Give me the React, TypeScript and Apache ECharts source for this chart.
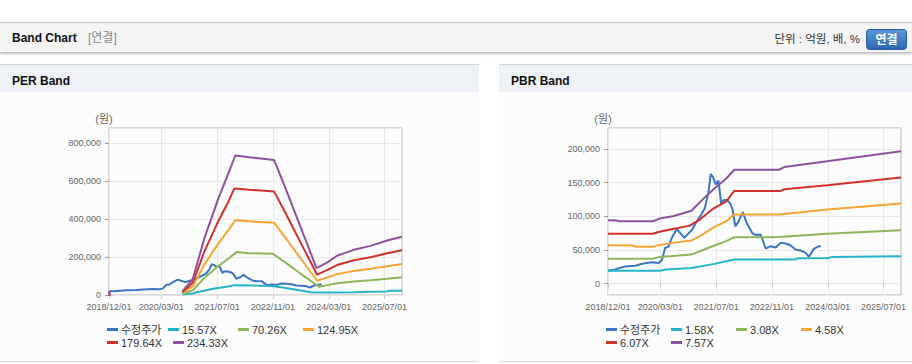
import React, { useEffect, useRef } from 'react';
import * as echarts from 'echarts';

const FONT = '"Liberation Sans", Arial, "Noto Sans CJK KR", sans-serif';

// monthly categories for the label axis, 2018/12/01 .. 2025/12/01
const months: string[] = [];
for (let y = 2018, m = 12; y < 2026; ) {
  months.push(`${y}/${String(m).padStart(2, '0')}/01`);
  if (y === 2025 && m === 12) break;
  m++;
  if (m > 12) { m = 1; y++; }
}
const xTickLabels = ['2018/12/01', '2020/03/01', '2021/07/01', '2022/11/01', '2024/03/01', '2025/07/01'];

const perLegend = ['수정주가', '15.57X', '70.26X', '124.95X', '179.64X', '234.33X'];
const pbrLegend = ['수정주가', '1.58X', '3.08X', '4.58X', '6.07X', '7.57X'];
const colors = ['#3a76c3', '#22b4c8', '#8db658', '#f5a533', '#d1302b', '#8f519e'];

type P = [string, number | string];

const price: P[] = [
  ['2018-12-01', 19500], ['2019-01-16', 20000], ['2019-03-10', 23000], ['2019-05-01', 25500],
  ['2019-07-28', 26500], ['2019-09-25', 29500], ['2019-12-19', 31500], ['2020-02-16', 30500],
  ['2020-03-16', 35000], ['2020-04-13', 53000], ['2020-05-13', 55000], ['2020-06-10', 68000],
  ['2020-07-25', 81000], ['2020-08-22', 75000], ['2020-09-28', 68000], ['2020-11-04', 75000],
  ['2020-12-01', 79000], ['2021-01-13', 92000], ['2021-02-13', 100000], ['2021-03-25', 112000],
  ['2021-04-25', 135000], ['2021-05-16', 163000], ['2021-06-07', 157000], ['2021-06-28', 147000],
  ['2021-07-22', 153000], ['2021-08-16', 117000], ['2021-09-04', 124000], ['2021-10-04', 124000],
  ['2021-11-01', 119000], ['2021-11-22', 110000], ['2021-12-16', 85000], ['2022-01-13', 92000],
  ['2022-02-19', 106000], ['2022-03-25', 90000], ['2022-05-13', 75000], ['2022-06-13', 72000],
  ['2022-07-25', 73000], ['2022-09-07', 52000], ['2022-10-19', 55500], ['2022-12-04', 53500],
  ['2023-01-16', 60500], ['2023-03-01', 59500], ['2023-04-13', 56500], ['2023-05-25', 50500],
  ['2023-07-10', 49000], ['2023-08-22', 45500], ['2023-09-19', 39500], ['2023-11-01', 51500],
  ['2023-12-16', 55500], ['2024-01-01', 55500],
];

// PER bands
const per15: P[] = [
  ['2020-09-01', 2000], ['2020-12-01', 8000], ['2021-01-04', 14000], ['2021-05-28', 33000],
  ['2021-10-04', 45000], ['2021-12-01', 52000], ['2022-05-19', 50000], ['2022-11-10', 46000],
  ['2023-02-07', 38000], ['2023-07-28', 21000], ['2023-09-25', 14000], ['2024-02-19', 13000],
  ['2024-10-07', 15000], ['2025-03-01', 17000], ['2025-07-20', 18000], ['2025-08-16', 22000],
  ['2025-12-01', 23000],
];
const per70: P[] = [
  ['2020-09-01', 5000], ['2020-12-01', 25000], ['2021-03-13', 90000], ['2021-07-07', 150000],
  ['2021-10-04', 190000], ['2021-12-19', 226000], ['2022-04-07', 220000], ['2022-11-01', 217000],
  ['2023-02-07', 176000], ['2023-07-28', 100000], ['2023-12-07', 44000], ['2024-02-19', 52000],
  ['2024-05-13', 62000], ['2024-10-07', 71000], ['2025-03-01', 78000], ['2025-07-25', 86000],
  ['2025-12-01', 94000],
];
const per124: P[] = [
  ['2020-09-01', 10000], ['2020-12-01', 45000], ['2021-03-13', 160000], ['2021-07-07', 267000],
  ['2021-10-04', 339000], ['2021-12-07', 394000], ['2022-04-07', 388000], ['2022-11-10', 381000],
  ['2023-02-07', 310000], ['2023-07-28', 170000], ['2023-11-22', 75000], ['2024-02-19', 92000],
  ['2024-05-13', 110000], ['2024-10-07', 126000], ['2025-03-01', 138000], ['2025-07-25', 152000],
  ['2025-12-01', 163000],
];
const per179: P[] = [
  ['2018-12-01', 15000], ['2018-12-25', -40000], ['2019-06-01', '-'],
  ['2020-09-01', 15000], ['2020-12-01', 64000], ['2021-03-13', 230000], ['2021-07-07', 383000],
  ['2021-10-04', 487000], ['2021-11-28', 561000], ['2022-04-07', 555000], ['2022-11-10', 546000],
  ['2023-02-07', 445000], ['2023-07-28', 243000], ['2023-11-22', 107000], ['2024-02-19', 132000],
  ['2024-05-13', 158000], ['2024-10-07', 183000], ['2025-03-01', 199000], ['2025-07-25', 220000],
  ['2025-12-01', 236000],
];
const per234: P[] = [
  ['2018-12-01', 21000], ['2018-12-25', -50000], ['2019-06-01', '-'],
  ['2020-09-01', 19000], ['2020-12-01', 84000], ['2021-03-13', 300000], ['2021-07-07', 500000],
  ['2021-10-04', 635000], ['2021-12-07', 735000], ['2022-04-07', 726000], ['2022-11-10', 712000],
  ['2023-02-07', 580000], ['2023-07-28', 314000], ['2023-11-16', 142000], ['2024-02-19', 172000],
  ['2024-05-13', 207000], ['2024-10-07', 238000], ['2025-03-01', 259000], ['2025-07-25', 287000],
  ['2025-12-01', 307000],
];

// PBR bands
const pbr158: P[] = [
  ['2018-12-01', 19000], ['2020-02-25', 19000], ['2020-04-22', 20800], ['2020-11-28', 23000],
  ['2021-06-16', 29200], ['2021-12-07', 35600], ['2023-05-25', 35600], ['2023-06-10', 37600],
  ['2024-03-10', 38000], ['2024-04-10', 39600], ['2025-12-01', 40600],
];
const pbr308: P[] = [
  ['2018-12-01', 37000], ['2019-12-28', 37000], ['2020-02-25', 39600], ['2020-11-28', 43000],
  ['2021-02-10', 48000], ['2021-06-16', 56500], ['2021-09-28', 63000], ['2021-12-07', 68800],
  ['2023-01-01', 69000], ['2024-02-25', 74000], ['2025-12-01', 79000],
];
const pbr458: P[] = [
  ['2018-12-01', 57000], ['2019-07-04', 56500], ['2019-08-01', 54500], ['2019-12-28', 54500],
  ['2020-02-13', 57000], ['2020-06-19', 60400], ['2020-11-28', 64000], ['2021-02-10', 70300],
  ['2021-06-16', 83700], ['2021-09-28', 92600], ['2021-12-07', 102500], ['2023-01-01', 102500],
  ['2024-02-25', 110000], ['2025-12-01', 118800],
];
const pbr607: P[] = [
  ['2018-12-01', 74000], ['2019-12-28', 74000], ['2020-02-13', 76500], ['2020-06-19', 81000],
  ['2020-11-13', 86000], ['2021-02-10', 95000], ['2021-06-04', 111000], ['2021-09-28', 122000],
  ['2021-12-07', 137500], ['2023-01-16', 137500], ['2023-02-16', 140000], ['2024-02-25', 146000],
  ['2025-12-01', 157500],
];
const pbr757: P[] = [
  ['2018-12-01', 94000], ['2019-02-15', 93500], ['2019-03-10', 92500], ['2019-12-28', 92500],
  ['2020-02-25', 96500], ['2020-06-19', 100000], ['2020-11-28', 108000], ['2021-03-07', 125000],
  ['2021-06-16', 141000], ['2021-09-28', 156000], ['2021-12-07', 169000], ['2023-01-01', 169000],
  ['2023-02-16', 173000], ['2024-02-25', 181500], ['2025-12-01', 196500],
];

const perData = [price, per15, per70, per124, per179, per234];
const pbrData = [price, pbr158, pbr308, pbr458, pbr607, pbr757];

const tickFn = (_i: number, v: string) => xTickLabels.indexOf(v) >= 0;
const fmt = (v: number) => v.toLocaleString('en-US');

function catAxis(gridIndex: number) {
  return {
    type: 'category', gridIndex, data: months, boundaryGap: false,
    axisLine: { show: false },
    axisTick: { show: true, length: 4, interval: tickFn, lineStyle: { color: '#c8c8c8' } },
    axisLabel: { interval: tickFn, fontSize: 9, color: '#666', margin: 7, fontFamily: FONT },
    splitLine: { show: true, interval: tickFn, lineStyle: { color: '#e8e8e8' } },
  };
}
function timeAxis(gridIndex: number) {
  return {
    type: 'time', gridIndex, show: false,
    min: +new Date(2018, 11, 1), max: +new Date(2025, 11, 1),
  };
}
function valAxis(gridIndex: number, min: number, max: number) {
  return {
    type: 'value', gridIndex, min, max,
    name: '(원)', nameLocation: 'end', nameGap: 4,
    nameTextStyle: { color: '#666', fontSize: 11, fontFamily: FONT, align: 'center', padding: [0, 10, 0, 0] },
    axisLine: { show: false },
    axisTick: { show: true, length: 4, lineStyle: { color: '#999' } },
    axisLabel: { fontSize: 9, color: '#666', margin: 8, fontFamily: FONT, showMinLabel: min === 0, showMaxLabel: false, formatter: fmt },
    splitLine: { lineStyle: { color: '#e8e8e8' } },
  };
}

export default function App() {
  const ref = useRef<HTMLDivElement>(null);
  useEffect(() => {
    if (!ref.current) return;
    const chart = echarts.init(ref.current, undefined, { renderer: 'svg' });

    const series: any[] = [];
    perLegend.forEach((name, i) => series.push({
      type: 'line', name, data: perData[i], xAxisIndex: 1, yAxisIndex: 0,
      showSymbol: false, symbol: 'none', clip: true, connectNulls: false,
      lineStyle: { width: 2, color: colors[i] }, itemStyle: { color: colors[i] },
    }));
    pbrLegend.forEach((name, i) => series.push({
      type: 'line', name, data: pbrData[i], xAxisIndex: 3, yAxisIndex: 1,
      showSymbol: false, symbol: 'none', clip: true, connectNulls: false,
      lineStyle: { width: 2, color: colors[i] }, itemStyle: { color: colors[i] },
    }));

    const perPos = [[107, 324], [168, 324], [238, 324], [303, 324], [107, 337], [173, 337]];
    const pbrPos = [[606, 324], [671, 324], [736, 324], [801, 324], [606, 337], [671, 337]];
    const legends: any[] = [];
    const mkLegend = (name: string, pos: number[]) => ({
      data: [name], left: pos[0], top: pos[1], padding: 0, icon: 'rect',
      itemWidth: 11, itemHeight: 3, selectedMode: false,
      textStyle: { fontSize: 11, color: '#333', fontFamily: FONT, padding: [0, 0, 0, -2] },
    });
    perLegend.forEach((n, i) => legends.push(mkLegend(n, perPos[i])));
    pbrLegend.forEach((n, i) => legends.push(mkLegend(n, pbrPos[i])));

    const panel = (x: number, w: number, title: string) => [
      { type: 'rect', z: -10, shape: { x, y: 65, width: w, height: 27 }, style: { fill: '#eef2f7' } },
      { type: 'rect', z: -10, shape: { x, y: 92, width: w, height: 269 }, style: { fill: '#fcfcfd' } },
      { type: 'line', z: -9, shape: { x1: x, y1: 64.5, x2: x + w, y2: 64.5 }, style: { stroke: '#d6d6d6', lineWidth: 1 } },
      { type: 'line', z: -9, shape: { x1: x, y1: 361.5, x2: x + w, y2: 361.5 }, style: { stroke: '#dadada', lineWidth: 1 } },
      { type: 'text', z: -8, style: { text: title, x: x + 12, y: 80.5, verticalAlign: 'middle', fontSize: 12, fontWeight: 'bold', fontFamily: FONT, fill: '#111' } },
    ];

    chart.setOption({
      animation: false,
      backgroundColor: '#ffffff',
      grid: [
        { left: 109, top: 128, width: 293, height: 167, show: true, borderColor: '#b5b5b5', borderWidth: 1, backgroundColor: 'transparent' },
        { left: 608, top: 128, width: 293, height: 167, show: true, borderColor: '#b5b5b5', borderWidth: 1, backgroundColor: 'transparent' },
      ],
      xAxis: [catAxis(0), timeAxis(0), catAxis(1), timeAxis(1)],
      yAxis: [valAxis(0, 0, 880000), valAxis(1, -17000, 231000)],
      legend: legends,
      series,
      graphic: [
        { type: 'rect', z: -10, shape: { x: 0, y: 22, width: 912, height: 31 }, style: { fill: '#f4f4f4', shadowBlur: 3, shadowOffsetY: 1, shadowColor: 'rgba(0,0,0,0.25)' } },
        { type: 'line', z: -9, shape: { x1: 0, y1: 22.5, x2: 912, y2: 22.5 }, style: { stroke: '#c6c6c6', lineWidth: 1 } },
        { type: 'line', z: -9, shape: { x1: 0, y1: 52.5, x2: 912, y2: 52.5 }, style: { stroke: '#c2c2c2', lineWidth: 1 } },
        { type: 'text', z: -8, style: { text: 'Band Chart', x: 12, y: 38, verticalAlign: 'middle', fontSize: 12, fontWeight: 'bold', fontFamily: FONT, fill: '#111' } },
        { type: 'text', z: -8, style: { text: '[연결]', x: 88, y: 38, verticalAlign: 'middle', fontSize: 12, fontFamily: FONT, fill: '#8a8a8a' } },
        { type: 'text', z: -8, style: { text: '단위 : 억원, 배, %', x: 860, y: 39, align: 'right', verticalAlign: 'middle', fontSize: 11.5, fontFamily: FONT, fill: '#333' } },
        {
          type: 'rect', z: -8, shape: { x: 866.5, y: 29.5, width: 40, height: 20, r: 3 },
          style: {
            fill: new echarts.graphic.LinearGradient(0, 0, 0, 1, [{ offset: 0, color: '#5b98da' }, { offset: 1, color: '#2c66b0' }]),
            stroke: '#2a5ea3', lineWidth: 1,
          },
        },
        { type: 'text', z: -7, style: { text: '연결', x: 886.5, y: 39.5, align: 'center', verticalAlign: 'middle', fontSize: 12, fontWeight: 'bold', fontFamily: FONT, fill: '#ffffff' } },
        ...panel(0, 479, 'PER Band'),
        ...panel(499, 413, 'PBR Band'),
      ],
    });
    return () => chart.dispose();
  }, []);
  return <div ref={ref} style={{ position: 'absolute', left: 0, top: 0, width: 912, height: 364 }} />;
}
